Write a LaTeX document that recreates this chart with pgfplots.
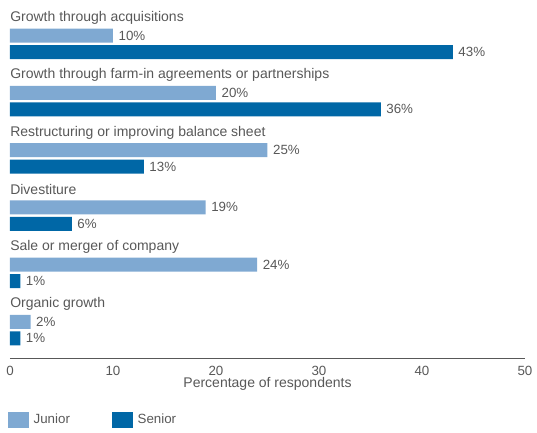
\documentclass[border=0pt]{standalone}
\usepackage{pgfplots}
\pgfplotsset{compat=1.18}
\usepackage{fontspec}
\setmainfont{Liberation Sans}
\definecolor{junior}{RGB}{127,169,210}
\definecolor{senior}{RGB}{0,103,166}
\definecolor{txt}{RGB}{88,88,88}
\begin{document}
\begin{tikzpicture}
\path[use as bounding box] (-7.5pt,-56.25pt) rectangle (395.25pt,268.5pt);
\begin{axis}[
  at={(0pt,0pt)}, anchor=south west,
  scale only axis, width=386.25pt, height=268.5pt,
  xmin=0, xmax=50, ymin=0, ymax=358, y dir=reverse,
  axis x line*=bottom, axis y line=none,
  x axis line style={draw=txt, line width=0.6pt, -},
  xtick={0,10,20,30,40,50}, major tick length=0pt,
  ytick=\empty,
  xticklabel style={text=txt, font=\fontsize{10}{12}\selectfont, inner sep=0pt, anchor=north, yshift=-6pt},
  /pgf/number format/assume math mode=true,
  xlabel={Percentage of respondents},
  xlabel style={at={(axis description cs:0.5,0)}, anchor=center, yshift=-19.5pt, text=txt, font=\fontsize{10.5}{12}\selectfont},
  xbar, bar width=14, bar shift=0pt,
  clip=false,
  nodes near coords={\pgfmathprintnumber{\pgfplotspointmeta}\%},
  point meta=x,
  every node near coord/.append style={anchor=west, inner sep=0pt, xshift=4pt, text=txt, font=\fontsize{10}{12}\selectfont},
  legend image code/.code={\fill[#1] (0pt,-6pt) rectangle (15.75pt,6pt);},
  legend style={at={(axis description cs:0,0)}, anchor=north west, xshift=-1.5pt, yshift=-40.5pt,
    draw=none, fill=none, inner sep=0pt, outer sep=0pt,
    font=\fontsize{10}{12}\selectfont, text=txt,
    nodes={inner sep=0pt},
    /tikz/every odd column/.append style={column sep=3.5pt},
    /tikz/every even column/.append style={column sep=31.5pt}},
  legend columns=2,
]
\addplot[fill=junior, draw=none] coordinates {
  (10,35.5) (20,92.75) (25,150) (19,207.25) (24,264.5) (2,321.75)
};
\addlegendentry{Junior}
\addplot[fill=senior, draw=none] coordinates {
  (43,52) (36,109.25) (13,166.5) (6,223.75) (1,281) (1,338.25)
};
\addlegendentry{Senior}
\begin{scope}[every node/.style={anchor=west, inner sep=0pt, text=txt, font=\fontsize{10.5}{12}\selectfont}]
\node at (axis cs:0,18) {Growth through acquisitions};
\node at (axis cs:0,75.25) {Growth through farm-in agreements or partnerships};
\node at (axis cs:0,132.5) {Restructuring or improving balance sheet};
\node at (axis cs:0,189.75) {Divestiture};
\node at (axis cs:0,247) {Sale or merger of company};
\node at (axis cs:0,304.25) {Organic growth};
\end{scope}
\end{axis}
\end{tikzpicture}
\end{document}
